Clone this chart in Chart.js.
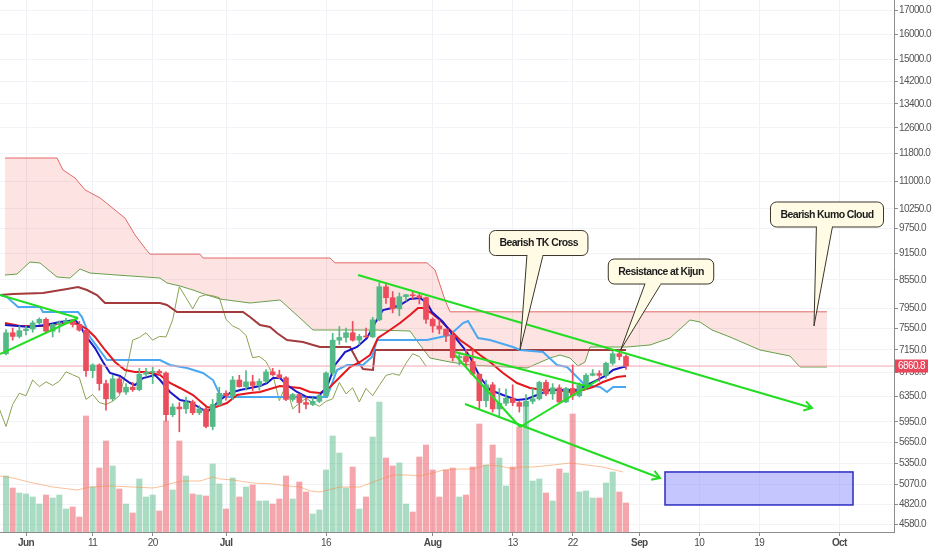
<!DOCTYPE html>
<html>
<head>
<meta charset="utf-8">
<title>BTC Ichimoku</title>
<script src="https://cdn.jsdelivr.net/npm/chart.js@4.4.1/dist/chart.umd.min.js"></script>
<style>
  html, body { margin: 0; padding: 0; background: #fff; overflow: hidden; }
  #wrap { width: 932px; height: 550px; position: relative; }
</style>
</head>
<body>
<div id="wrap"><canvas id="chart"></canvas></div>
<script>
// day 0 = 1 Jun; candles run from 29 May (day -3) to 30 Aug (day 90)
const firstDay = -3;

const opens = [
  7080, 7470, 7400, 7510, 7540, 7660, 7730, 7500, 7630, 7660,
  7700, 7630, 7520, 6780, 6880, 6560, 6310, 6640, 6420, 6500,
  6460, 6720, 6750, 6770, 6740, 6060, 6180, 6150, 6260, 6090,
  6150, 5880, 6220, 6400, 6360, 6620, 6510, 6590, 6530, 6600,
  6760, 6710, 6660, 6300, 6380, 6250, 6220, 6270, 6360, 6740,
  7330, 7380, 7470, 7330, 7400, 7390, 7720, 8400, 8170, 7940,
  8190, 8230, 8210, 8170, 7730, 7600, 7540, 7420, 7010, 7030,
  6940, 6720, 6280, 6540, 6150, 6240, 6320, 6250, 6190, 6270,
  6310, 6580, 6390, 6490, 6260, 6480, 6360, 6530, 6700, 6730,
  6700, 6910, 7080, 7030
];
const highs = [
  7530, 7560, 7600, 7600, 7700, 7760, 7760, 7640, 7700, 7750,
  7720, 7690, 7520, 6900, 6900, 6620, 6700, 6670, 6560, 6580,
  6820, 6820, 6840, 6800, 6760, 6230, 6250, 6340, 6290, 6200,
  6170, 6300, 6500, 6440, 6680, 6700, 6780, 6700, 6640, 6800,
  6820, 6790, 6680, 6400, 6390, 6340, 6330, 6390, 6760, 7460,
  7590, 7560, 7690, 7440, 7560, 7770, 8490, 8480, 8300, 8270,
  8240, 8290, 8270, 8180, 7760, 7720, 7540, 7500, 7090, 7160,
  7150, 6730, 6620, 6580, 6480, 6470, 6540, 6270, 6380, 6480,
  6600, 6620, 6560, 6540, 6500, 6880, 6570, 6730, 6800, 6780,
  6930, 7130, 7140, 7060
];
const lows = [
  7060, 7330, 7370, 7430, 7480, 7630, 7460, 7390, 7480, 7640,
  7580, 7500, 6680, 6660, 6450, 6130, 6280, 6400, 6380, 6430,
  6440, 6680, 6560, 6700, 5960, 6030, 5800, 6080, 6060, 6060,
  5860, 5830, 6200, 6290, 6300, 6500, 6450, 6440, 6450, 6570,
  6700, 6640, 6280, 6270, 6090, 6150, 6200, 6250, 6340, 6700,
  7250, 7290, 7310, 7250, 7380, 7380, 7700, 8050, 7860, 7800,
  8100, 8140, 8040, 7650, 7480, 7450, 7300, 6950, 6880, 6850,
  6700, 6140, 6180, 6100, 6020, 6200, 6200, 6100, 5880, 6230,
  6290, 6360, 6300, 6250, 6250, 6300, 6340, 6460, 6690, 6600,
  6650, 6880, 6970, 6800
];
const closes = [
  7470, 7400, 7510, 7540, 7660, 7730, 7500, 7630, 7660, 7700,
  7630, 7520, 6780, 6880, 6560, 6310, 6640, 6420, 6500, 6460,
  6720, 6750, 6770, 6740, 6060, 6180, 6150, 6260, 6090, 6150,
  5880, 6220, 6400, 6360, 6620, 6510, 6590, 6530, 6600, 6760,
  6710, 6660, 6300, 6380, 6250, 6220, 6270, 6360, 6740, 7330,
  7380, 7470, 7330, 7400, 7390, 7720, 8400, 8170, 7940, 8190,
  8230, 8210, 8170, 7730, 7600, 7540, 7420, 7010, 7030, 6940,
  6720, 6280, 6540, 6150, 6240, 6320, 6250, 6190, 6270, 6310,
  6580, 6390, 6490, 6260, 6480, 6360, 6530, 6700, 6730, 6700,
  6910, 7080, 7030, 6860.8
];
// volume, thousands
const volumes = [
  56, 44, 39, 38, 35, 28, 37, 34, 37, 23,
  25, 15, 116, 45, 64, 91, 66, 43, 28, 19,
  53, 35, 37, 21, 111, 42, 91, 56, 38, 37,
  36, 68, 48, 23, 54, 35, 45, 47, 31, 31,
  28, 33, 56, 33, 50, 40, 18, 22, 62, 96,
  79, 44, 65, 23, 35, 95, 130, 74, 66, 69,
  28, 20, 75, 87, 62, 35, 62, 64, 35, 37,
  65, 108, 67, 87, 74, 46, 65, 105, 130, 51,
  53, 39, 31, 63, 59, 118, 40, 41, 34, 34,
  49, 60, 40, 29
];
const volumeMA = [
  [-3.9, 56], [-1.95, 54], [1.05, 49], [4.05, 45], [7.65, 42], [9.6, 45], [12.6, 46],
  [16.05, 45], [19.05, 44], [20.55, 46], [22.05, 49], [23.55, 51], [26.1, 51], [28.05, 55],
  [29.1, 53], [31.05, 52], [34.05, 49], [37.05, 48], [39.15, 46], [41.1, 45], [42.6, 41],
  [44.1, 40], [47.1, 45], [50.1, 45], [52.05, 50], [55.05, 57], [57.15, 57], [59.1, 56],
  [61.05, 59], [62.55, 62], [65.1, 63], [67.05, 63], [69.15, 67], [71.1, 66], [73.05, 63],
  [74.1, 65], [76.05, 65], [79.05, 67], [81.6, 69], [84.15, 67], [86.55, 65], [89.55, 60]
];

const lastPrice = 6860.8;
const chikouShift = 30;

// ichimoku lines, [day, price]
const senkouB = [
  [-3.15, 11670], [4.65, 11670], [5.55, 11320], [7.35, 11090], [8.85, 10760], [11.1, 10540],
  [13.35, 10220], [14.85, 10010], [16.35, 9590], [17.85, 9270], [18.6, 9130], [26.1, 9130],
  [26.55, 9040], [45.6, 9040], [46.35, 8930], [60.15, 8930], [61.35, 8770], [62.1, 8440],
  [62.85, 8120], [63.6, 7880], [120.15, 7880]
];
const senkouA = [
  [-3.15, 8656], [-1.35, 8678], [0.6, 8949], [2.1, 8926], [4.65, 8612], [6.6, 8590],
  [8.1, 8790], [9.6, 8700], [13.65, 8656], [20.1, 8590], [21.15, 8481], [23.1, 8417],
  [25.05, 8331], [27.15, 8225], [29.1, 8142], [33.6, 8059], [38.1, 8121], [41.1, 7756],
  [43.05, 7522], [52.65, 7522], [57.6, 7503], [59.1, 7240], [60.6, 7003], [63.6, 6932],
  [66.6, 6879], [75.15, 6827], [78.6, 7003], [80.1, 7057], [81.6, 7003], [82.8, 6862],
  [83.85, 6932], [84.6, 7203], [90.15, 7203], [93.6, 7240], [96.6, 7370], [99.6, 7717],
  [101.1, 7677], [102.9, 7522], [105.6, 7389], [110.1, 7148], [114.6, 7039], [116.1, 6844],
  [120.15, 6844]
];
const kijun = [
  [-3.9, 8225], [-1.95, 8246], [2.55, 8268], [6.15, 8352], [7.8, 8395], [9.15, 8331],
  [10.65, 8225], [11.85, 8059], [20.1, 8059], [21.15, 8018], [22.65, 7876], [32.55, 7876],
  [33.6, 7776], [35.1, 7619], [36.6, 7580], [37.65, 7465], [39.15, 7333], [41.55, 7295],
  [43.05, 7240], [44.1, 7203], [48.6, 7203], [49.65, 6967], [50.55, 6809], [52.05, 6792],
  [52.35, 7148], [90, 7148]
];
const tenkan = [
  [-3.9, 8225], [-2.85, 8183], [-1.2, 7977], [2.1, 7977], [2.55, 7876], [7.8, 7876],
  [8.4, 7776], [9.6, 7389], [12.15, 6967], [20.1, 6967], [21.6, 6879], [24.15, 6827],
  [26.55, 6740], [28.05, 6620], [29.1, 6372], [30.15, 6339], [45.15, 6339], [46.65, 6792],
  [48.15, 6879], [50.55, 6879], [51.9, 7021], [52.65, 7333], [60.15, 7333], [63.6, 7427],
  [65.55, 7658], [66.3, 7697], [67.8, 7370], [69.6, 7333], [73.05, 7203], [74.1, 7148],
  [77.55, 7111], [79.65, 6879], [81.15, 6844], [82.65, 6671], [83.85, 6537], [86.1, 6503],
  [87.15, 6421], [88.05, 6503], [90, 6503]
];
const maFast = [
  [-3.15, 7619], [0.6, 7580], [2.85, 7619], [5.1, 7677], [7.35, 7717], [8.1, 7619],
  [8.85, 7427], [10.35, 7184], [11.55, 6932], [12.6, 6740], [14.1, 6689], [15.6, 6570],
  [16.35, 6537], [17.55, 6654], [19.35, 6706], [20.1, 6620], [21.6, 6421], [23.1, 6291],
  [24.6, 6259], [26.1, 6164], [27.15, 6101], [28.05, 6180], [29.1, 6291], [30.6, 6404],
  [32.1, 6454], [33.6, 6487], [35.1, 6520], [36.15, 6570], [37.05, 6654], [38.1, 6654],
  [39.15, 6537], [40.65, 6421], [42.15, 6339], [43.65, 6323], [45.15, 6503], [46.35, 6879],
  [47.85, 7111], [49.65, 7203], [51.15, 7370], [52.35, 7658], [53.55, 7916], [54.9, 7957],
  [56.1, 8018], [57.6, 8142], [59.1, 8163], [60.15, 8059], [60.9, 7876], [62.55, 7677],
  [64.05, 7427], [65.55, 7203], [66.6, 7021], [68.1, 6671], [69.6, 6454], [71.55, 6372],
  [73.65, 6291], [75.15, 6307], [76.65, 6372], [78.6, 6454], [82.65, 6454], [84.15, 6537],
  [85.65, 6620], [87.15, 6706], [88.05, 6792], [89.55, 6844], [90, 6850]
];
const maSlow = [
  [-3.15, 7658], [-0.9, 7599], [2.85, 7599], [6.6, 7677], [8.1, 7619], [9.3, 7522],
  [10.35, 7389], [11.85, 7148], [13.35, 6932], [14.85, 6792], [16.35, 6757], [17.85, 6757],
  [20.1, 6706], [21.6, 6570], [23.1, 6487], [25.05, 6372], [27.15, 6180], [28.05, 6164],
  [30.15, 6243], [31.65, 6372], [33.6, 6404], [35.1, 6421], [36.6, 6470], [38.1, 6520],
  [39.6, 6503], [41.1, 6487], [42.6, 6421], [44.1, 6404], [45.6, 6503], [47.1, 6671],
  [48.6, 6844], [50.1, 6932], [51.6, 7057], [52.8, 7370], [54.6, 7522], [56.1, 7658],
  [57.6, 7816], [58.8, 7957], [59.55, 7957], [60.6, 7876], [62.1, 7717], [63.6, 7522],
  [65.1, 7333], [66.6, 7203], [68.1, 7057], [69.6, 6932], [71.55, 6740], [73.65, 6570],
  [75.6, 6487], [77.55, 6454], [79.65, 6454], [81.6, 6421], [83.55, 6454], [85.05, 6503],
  [86.55, 6587], [88.65, 6671], [90, 6690]
];

// drawn trend lines, [day, price]
const triangleTop = [[-3.9, 8225], [7.8, 7756]];
const triangleBottom = [[-3.9, 7075], [7.8, 7756]];
const mainDownTrend = [[49.8, 8656], [117.9, 6163]];
const channelUpper = [[64.35, 7111], [84.6, 6503]];
const wedgeLeft = [[64.35, 7057], [74.1, 5872]];
const wedgeRight = [[74.1, 5872], [85.8, 6620]];
const channelLower = [[65.85, 6227], [95.1, 5155]];

const callouts = [
  { text: 'Bearish TK Cross', tip: [74.1, 7150], box: [76.9, 9393] },
  { text: 'Resistance at Kijun', tip: [89.2, 7150], box: [95.25, 8734] },
  { text: 'Bearish Kumo Cloud', tip: [118.2, 7600], box: [120.15, 10103] }
];
const targetZone = { from: 95.85, to: 124.05, low: 4812, high: 5235 };

const tickDays = [0, 10, 19, 30, 45, 61, 73, 82, 92, 101, 110, 122];
const tickLabels = ['Jun', '11', '20', 'Jul', '16', 'Aug', '13', '22', 'Sep', '10', '19', 'Oct'];
const monthTicks = ['Jun', 'Jul', 'Aug', 'Sep', 'Oct'];
const priceTicks = [17000, 16000, 15000, 14200, 13400, 12600, 11800, 11000, 10250, 9750, 9150,
  8550, 7950, 7550, 7150, 6750, 6350, 5950, 5650, 5350, 5070, 4820, 4580];

const fontFamily = "'Liberation Sans', Arial, sans-serif";
const axisSize = 10;
const calloutSize = 10.5;
const tightText = '-0.6px';
Chart.defaults.font.family = fontFamily;

const upColor = '#53b987', downColor = '#eb4d5c';
const days = opens.map((_, i) => firstDay + i);
const up = opens.map((o, i) => closes[i] >= o);
const pts = arr => arr.map(p => ({ x: p[0], y: p[1] }));

function lineSet(label, arr, color, width, order, extra) {
  return Object.assign({
    type: 'line', label: label, data: pts(arr), borderColor: color, borderWidth: width,
    pointRadius: 0, tension: 0, fill: false, order: order, yAxisID: 'y'
  }, extra || {});
}

const datasets = [
  {
    type: 'bar', label: 'Volume', yAxisID: 'yv', order: 20, grouped: false, barThickness: 5.4,
    data: days.map((d, i) => ({ x: d, y: volumes[i] })),
    backgroundColor: up.map(u => u ? 'rgba(83,185,135,0.5)' : 'rgba(235,77,92,0.5)')
  },
  lineSet('Volume MA', volumeMA, 'rgba(245,140,70,0.55)', 1, 19, { yAxisID: 'yv' }),
  lineSet('Senkou B', senkouB, '#e26868', 1, 17),
  lineSet('Senkou A', senkouA, '#67a04c', 1, 18, { fill: { target: 2 }, backgroundColor: 'rgba(244,67,54,0.15)' }),
  {
    type: 'line', label: 'Chikou', yAxisID: 'y', order: 16, borderColor: '#8aa254', borderWidth: 1,
    pointRadius: 0, tension: 0, fill: false,
    data: closes.map((c, i) => ({ x: firstDay + i - chikouShift, y: c }))
  },
  lineSet('Kijun', kijun, '#a33a3c', 2, 15),
  lineSet('Tenkan', tenkan, '#4aa8f2', 2, 14),
  lineSet('MA slow', maSlow, '#e3171c', 2, 13),
  lineSet('MA fast', maFast, '#1818c8', 2, 12),
  lineSet('Last price', [[-3.9, lastPrice], [130.2, lastPrice]], '#f4a6b4', 1, 11),
  {
    type: 'bar', label: 'Wicks', yAxisID: 'y', order: 5, grouped: false, barThickness: 1,
    data: days.map((d, i) => ({ x: d, y: [lows[i], highs[i]] })),
    backgroundColor: up.map(u => u ? upColor : downColor)
  },
  {
    type: 'bar', label: 'Candles', yAxisID: 'y', order: 4, grouped: false, barThickness: 5, minBarLength: 1,
    data: days.map((d, i) => ({ x: d, y: [opens[i], closes[i]] })),
    backgroundColor: up.map(u => u ? upColor : downColor)
  },
  lineSet('Trend 1', triangleTop, '#22dd22', 2, 1),
  lineSet('Trend 2', triangleBottom, '#22dd22', 2, 1),
  lineSet('Trend 3', mainDownTrend, '#22dd22', 2, 1, { arrowHead: true }),
  lineSet('Trend 4', channelUpper, '#22dd22', 2, 1),
  lineSet('Trend 5', wedgeLeft, '#22dd22', 2, 1),
  lineSet('Trend 6', wedgeRight, '#22dd22', 2, 1),
  lineSet('Trend 7', channelLower, '#22dd22', 2, 1, { arrowHead: true })
];

function drawCallout(ctx, xs, ys, c) {
  const tx = xs.getPixelForValue(c.tip[0]), ty = ys.getPixelForValue(c.tip[1]);
  const cx = xs.getPixelForValue(c.box[0]), cy = ys.getPixelForValue(c.box[1]);
  ctx.font = 'bold ' + calloutSize + 'px ' + fontFamily;
  const w = ctx.measureText(c.text).width + 20, h = 25;
  const left = cx - w / 2, top = cy - h / 2, bottom = cy + h / 2;
  const bx = cx + (tx - cx) * 0.2;
  const fill = '#fffbe5', line = '#3a3528';

  ctx.beginPath();
  ctx.moveTo(bx - 8, bottom - 1);
  ctx.lineTo(tx, ty);
  ctx.lineTo(bx + 8, bottom - 1);
  ctx.closePath();
  ctx.fillStyle = fill;
  ctx.fill();
  ctx.beginPath();
  ctx.moveTo(bx - 8, bottom);
  ctx.lineTo(tx, ty);
  ctx.lineTo(bx + 8, bottom);
  ctx.strokeStyle = line;
  ctx.lineWidth = 1;
  ctx.stroke();

  ctx.beginPath();
  ctx.roundRect(left, top, w, h, 6);
  ctx.fillStyle = fill;
  ctx.fill();
  ctx.stroke();
  ctx.fillStyle = fill;
  ctx.fillRect(bx - 7.5, bottom - 2, 15, 3);

  ctx.fillStyle = '#1c1c1c';
  ctx.textAlign = 'center';
  ctx.textBaseline = 'middle';
  ctx.fillText(c.text, cx, cy + 0.5);
}

const overlayPlugin = {
  id: 'overlays',
  beforeDraw(chart) {
    // the reference text is horizontally squeezed
    chart.ctx.letterSpacing = tightText;
  },
  afterDatasetsDraw(chart) {
    const { ctx, chartArea } = chart;
    const xs = chart.scales.x, ys = chart.scales.y;
    ctx.save();
    ctx.beginPath();
    ctx.rect(chartArea.left, chartArea.top, chartArea.right - chartArea.left, chartArea.bottom - chartArea.top);
    ctx.clip();

    // target zone box
    const x0 = xs.getPixelForValue(targetZone.from), x1 = xs.getPixelForValue(targetZone.to);
    const y0 = ys.getPixelForValue(targetZone.high), y1 = ys.getPixelForValue(targetZone.low);
    ctx.fillStyle = 'rgba(120,120,255,0.42)';
    ctx.fillRect(x0, y0, x1 - x0, y1 - y0);
    ctx.strokeStyle = '#2c2cc2';
    ctx.lineWidth = 1.5;
    ctx.strokeRect(x0, y0, x1 - x0, y1 - y0);

    // arrow heads on the trend lines
    chart.data.datasets.forEach((ds, i) => {
      if (!ds.arrowHead) return;
      const el = chart.getDatasetMeta(i).data;
      const a = el[el.length - 2], b = el[el.length - 1];
      const ang = Math.atan2(b.y - a.y, b.x - a.x);
      ctx.strokeStyle = ds.borderColor;
      ctx.lineWidth = 2;
      ctx.beginPath();
      ctx.moveTo(b.x - 9 * Math.cos(ang - 0.55), b.y - 9 * Math.sin(ang - 0.55));
      ctx.lineTo(b.x, b.y);
      ctx.lineTo(b.x - 9 * Math.cos(ang + 0.55), b.y - 9 * Math.sin(ang + 0.55));
      ctx.stroke();
    });

    callouts.forEach(c => drawCallout(ctx, xs, ys, c));
    ctx.restore();
  },
  afterDraw(chart) {
    const { ctx } = chart;
    const ys = chart.scales.y;
    const py = ys.getPixelForValue(lastPrice);
    ctx.save();
    ctx.fillStyle = '#e8465b';
    ctx.fillRect(ys.left + 1, py - 6.5, 33, 13);
    ctx.fillStyle = '#fff';
    ctx.font = axisSize + 'px ' + fontFamily;
    ctx.textAlign = 'left';
    ctx.textBaseline = 'middle';
    ctx.fillText(lastPrice.toFixed(1), ys.left + 4, py + 0.5);
    ctx.restore();
  }
};

function noPadding(axis) {
  axis.paddingTop = 0;
  axis.paddingBottom = 0;
  axis.paddingLeft = 0;
  axis.paddingRight = 0;
}

new Chart(document.getElementById('chart'), {
  data: { datasets: datasets },
  plugins: [overlayPlugin],
  options: {
    responsive: true,
    maintainAspectRatio: false,
    animation: false,
    events: [],
    layout: { padding: 0 },
    plugins: { legend: { display: false }, tooltip: { enabled: false } },
    scales: {
      x: {
        type: 'linear',
        min: -3.9,
        max: 130.2,
        offset: false,
        afterBuildTicks: axis => { axis.ticks = tickDays.map(v => ({ value: v })); },
        afterFit: axis => { axis.height = 18; noPadding(axis); },
        ticks: {
          autoSkip: false,
          maxRotation: 0,
          padding: 1,
          color: '#4a4a4a',
          callback: v => tickLabels[tickDays.indexOf(v)],
          font: ctx => ({
            family: fontFamily,
            size: axisSize,
            weight: ctx.tick && monthTicks.includes(tickLabels[tickDays.indexOf(ctx.tick.value)]) ? 'bold' : 'normal'
          })
        },
        grid: { offset: false, color: '#eff1f6', tickLength: 4, tickColor: '#8c8c8c' },
        border: { color: '#8c8c8c' }
      },
      y: {
        type: 'logarithmic',
        position: 'right',
        min: 4491,
        max: 17471,
        afterBuildTicks: axis => { axis.ticks = priceTicks.map(v => ({ value: v })); },
        afterFit: axis => { axis.width = 38; noPadding(axis); },
        ticks: {
          autoSkip: false,
          padding: 1,
          color: '#555',
          font: { family: fontFamily, size: axisSize },
          callback: v => Number(v).toFixed(1)
        },
        grid: { color: '#f1f3f7', tickLength: 4, tickColor: '#8c8c8c' },
        border: { color: '#8c8c8c' }
      },
      yv: {
        type: 'linear',
        display: false,
        min: 0,
        max: 532
      }
    }
  }
});
</script>
</body>
</html>
